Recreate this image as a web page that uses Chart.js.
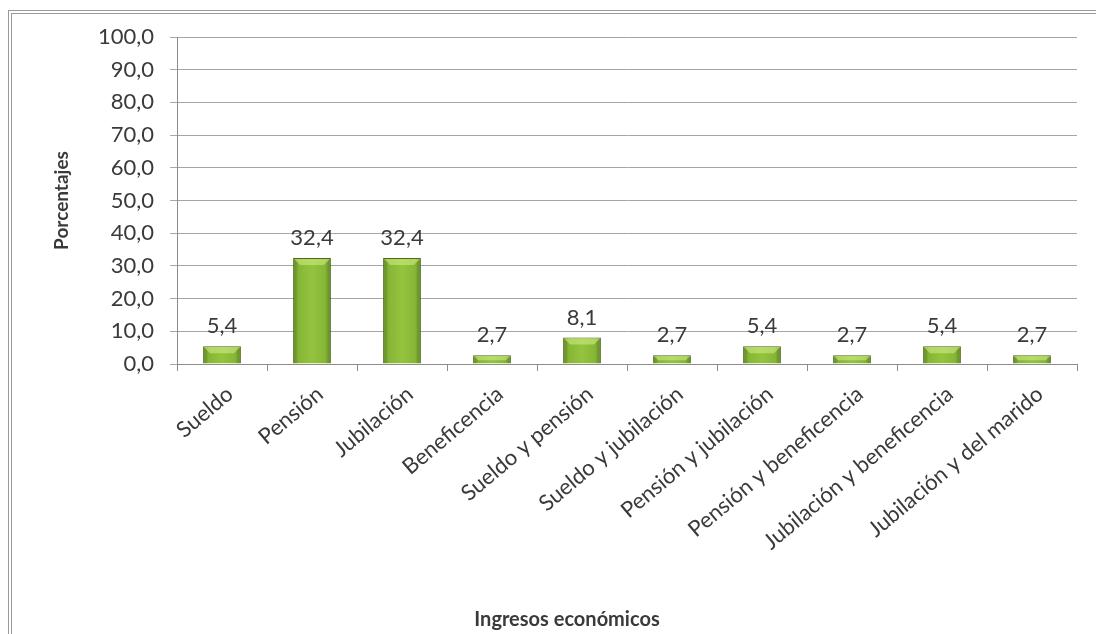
<!DOCTYPE html>
<html lang="es">
<head>
<meta charset="UTF-8">
<title>Ingresos económicos</title>
<style>
* {
    margin: 0;
    padding: 0;
    box-sizing: border-box;
}
body {
    width: 1096px;
    height: 634px;
    overflow: hidden;
    background: #fff;
    position: relative;
}
.frame {
    position: absolute;
    left: 8px;
    top: 10px;
    width: 1100px;
    height: 640px;
    border: 4px double #9a9a9a;
}
.chart-box {
    position: absolute;
    left: 0;
    top: 0;
    width: 1096px;
    height: 634px;
}
</style>
</head>
<body>
<div class="frame"></div>
<div class="chart-box">
    <canvas id="ingresosChart" width="1096" height="634"></canvas>
</div>
<script src="https://cdn.jsdelivr.net/npm/chart.js@4/dist/chart.umd.min.js"></script>
<script>
// data
var categorias = ['Sueldo', 'Pensión', 'Jubilación', 'Beneficencia', 'Sueldo y pensión',
    'Sueldo y jubilación', 'Pensión y jubilación', 'Pensión y beneficencia',
    'Jubilación y beneficencia', 'Jubilación y del marido'];
var porcentajes = [5.4, 32.4, 32.4, 2.7, 8.1, 2.7, 5.4, 2.7, 5.4, 2.7];
var yTicks = [0, 10, 20, 30, 40, 50, 60, 70, 80, 90, 100];

var fontName = 'Lato, "Open Sans", sans-serif';
var textColor = '#3a3a3a';
var barPct = 0.42;

function coma(v) {
    return Number(v).toFixed(1).replace('.', ',');
}

// bevelled green fill, dark edges and lighter middle
function barFill(context) {
    var chart = context.chart;
    var xs = chart.scales && chart.scales.x;
    if (!xs || !chart.chartArea) return '#8cbc3a';
    var cx = xs.getPixelForValue(context.dataIndex);
    var half = xs.width / categorias.length * barPct / 2;
    if (!isFinite(cx) || !isFinite(half) || half <= 0) return '#8cbc3a';
    var g = chart.ctx.createLinearGradient(cx - half, 0, cx + half, 0);
    g.addColorStop(0, '#5a7d1f');
    g.addColorStop(0.15, '#86b636');
    g.addColorStop(0.5, '#94c43e');
    g.addColorStop(0.85, '#86b636');
    g.addColorStop(1, '#5a7d1f');
    return g;
}

// light bevel on the top of every bar
var barBevel = {
    id: 'barBevel',
    afterDatasetsDraw: function(chart) {
        var ctx = chart.ctx;
        var meta = chart.getDatasetMeta(0);
        ctx.save();
        meta.data.forEach(function(bar) {
            var h = Math.min(6, (bar.base - bar.y) / 2);
            var l = bar.x - bar.width / 2 + 1, r = bar.x + bar.width / 2 - 1;
            ctx.beginPath();
            ctx.moveTo(l, bar.y + 1);
            ctx.lineTo(r, bar.y + 1);
            ctx.lineTo(r - h, bar.y + 1 + h);
            ctx.lineTo(l + h, bar.y + 1 + h);
            ctx.closePath();
            ctx.fillStyle = 'rgba(205, 235, 130, 0.6)';
            ctx.fill();
        });
        ctx.restore();
    }
};

var valueLabels = {
    id: 'valueLabels',
    afterDatasetsDraw: function(chart) {
        var ctx = chart.ctx;
        var meta = chart.getDatasetMeta(0);
        ctx.save();
        ctx.font = '22px ' + fontName;
        ctx.fillStyle = textColor;
        ctx.textAlign = 'center';
        ctx.textBaseline = 'bottom';
        meta.data.forEach(function(bar, i) {
            ctx.fillText(coma(porcentajes[i]), bar.x, bar.y - 9);
        });
        // x axis title, sits left of the plot centre like in the source
        ctx.font = 'bold 20px ' + fontName;
        ctx.textBaseline = 'middle';
        ctx.fillText('Ingresos económicos', 567, 620);
        ctx.restore();
    }
};

var ctx = document.getElementById('ingresosChart').getContext('2d');
var ingresosChart = new Chart(ctx, {
    type: 'bar',
    data: {
        labels: categorias,
        datasets: [{
            label: 'Porcentajes',
            data: porcentajes,
            backgroundColor: barFill,
            borderColor: '#4a6a18',
            borderWidth: 1,
            borderSkipped: 'start',
            categoryPercentage: 1,
            barPercentage: barPct
        }]
    },
    options: {
        responsive: false,
        animation: false,
        devicePixelRatio: 1,
        layout: {
            padding: { top: 37, right: 19, bottom: 2, left: 50 }
        },
        plugins: {
            legend: { display: false },
            tooltip: { enabled: false }
        },
        scales: {
            x: {
                grid: {
                    offset: true,
                    drawOnChartArea: false,
                    drawTicks: true,
                    tickLength: 7,
                    color: '#8c8c8c'
                },
                border: { color: '#8c8c8c' },
                ticks: {
                    color: textColor,
                    font: { family: fontName, size: 22 },
                    maxRotation: 40,
                    minRotation: 40,
                    autoSkip: false,
                    padding: 10,
                    labelOffset: 8
                },
                afterFit: function(scale) { scale.height = 268; }
            },
            y: {
                min: 0,
                max: 100,
                afterBuildTicks: function(scale) {
                    scale.ticks = yTicks.map(function(v) { return { value: v }; });
                },
                grid: {
                    color: '#a6a6a6',
                    tickLength: 7
                },
                border: { color: '#8c8c8c' },
                ticks: {
                    color: textColor,
                    font: { family: fontName, size: 22 },
                    padding: 16,
                    callback: function(v) { return coma(v); }
                },
                title: {
                    display: true,
                    text: 'Porcentajes',
                    color: textColor,
                    font: { family: fontName, size: 19, weight: 'bold' },
                    padding: { top: 0, bottom: 4 }
                },
                afterFit: function(scale) { scale.width = 127; }
            }
        }
    },
    plugins: [barBevel, valueLabels]
});
</script>
</body>
</html>
